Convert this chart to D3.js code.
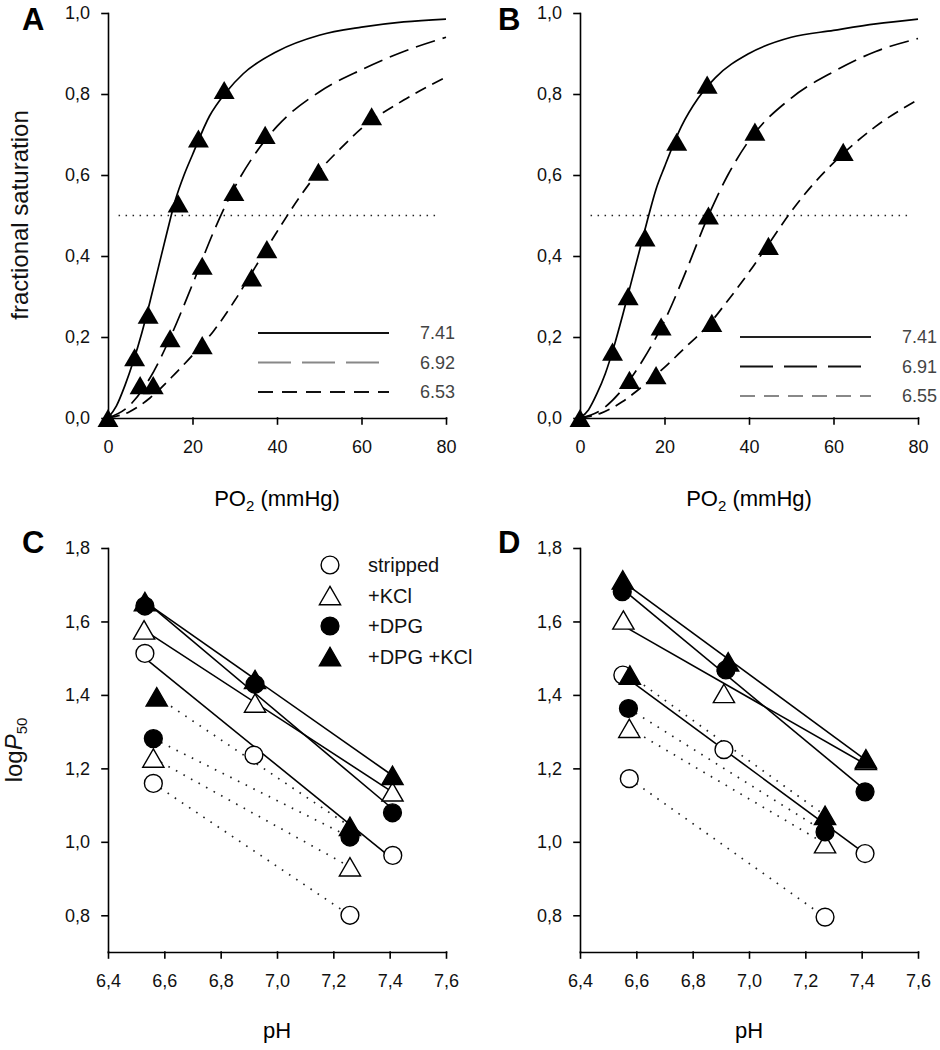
<!DOCTYPE html>
<html>
<head>
<meta charset="utf-8">
<script src="https://cdn.jsdelivr.net/npm/d3@7"></script>
<style>
body { margin: 0; background: #fff; }
svg text { font-family: "Liberation Sans", Arial, sans-serif; }
</style>
</head>
<body>
<svg id="fig" width="940" height="1050"></svg>
<script>
// ---- panel A: saturation curves, pH 7.41 / 6.92 / 6.53 ----
var aLabels = ["7.41", "6.92", "6.53"];
var aPO2_741 = [0, 6.3, 9.5, 16.6, 21.4, 27.5];
var aSat_741 = [0, 0.15, 0.255, 0.53, 0.69, 0.81];
var aPO2_692 = [7.6, 14.7, 22.3, 29.8, 37.2];
var aSat_692 = [0.081, 0.197, 0.376, 0.558, 0.699];
var aPO2_653 = [10.7, 22.3, 34.0, 37.6, 49.8, 62.4];
var aSat_653 = [0.081, 0.18, 0.347, 0.417, 0.608, 0.745];
// fitted curves
var aFitX_741 = [0, 2, 4, 6, 8, 10, 12, 14, 16, 18, 20, 24, 28, 32, 40, 50, 60, 70, 80];
var aFitY_741 = [0, 0.03, 0.08, 0.14, 0.21, 0.29, 0.375, 0.46, 0.54, 0.60, 0.65, 0.745, 0.805, 0.85, 0.905, 0.945, 0.965, 0.978, 0.985];
var aFitX_692 = [0, 5, 10, 15, 20, 25, 30, 35, 40, 50, 60, 70, 80];
var aFitY_692 = [0, 0.03, 0.10, 0.205, 0.33, 0.46, 0.57, 0.655, 0.72, 0.805, 0.86, 0.905, 0.94];
var aFitX_653 = [0, 5, 10, 15, 20, 25, 30, 35, 40, 45, 50, 55, 60, 70, 80];
var aFitY_653 = [0, 0.015, 0.05, 0.10, 0.155, 0.215, 0.29, 0.375, 0.46, 0.54, 0.61, 0.665, 0.715, 0.785, 0.842];

// ---- panel B: pH 7.41 / 6.91 / 6.55 ----
var bLabels = ["7.41", "6.91", "6.55"];
var bPO2_741 = [0, 7.7, 11.4, 15.4, 22.9, 30.1];
var bSat_741 = [0, 0.164, 0.301, 0.446, 0.682, 0.823];
var bPO2_691 = [11.7, 19.2, 30.4, 41.4];
var bSat_691 = [0.094, 0.226, 0.5, 0.707];
var bPO2_655 = [18.0, 31.2, 44.6, 62.3];
var bSat_655 = [0.106, 0.235, 0.425, 0.657];
var bFitX_741 = [0, 2, 4, 6, 8, 10, 12, 14, 16, 18, 20, 24, 28, 32, 40, 50, 60, 70, 80];
var bFitY_741 = [0, 0.02, 0.06, 0.11, 0.175, 0.25, 0.33, 0.41, 0.49, 0.565, 0.62, 0.72, 0.79, 0.84, 0.9, 0.94, 0.957, 0.973, 0.985];
var bFitX_691 = [0, 5, 10, 15, 20, 25, 30, 35, 40, 50, 60, 70, 80];
var bFitY_691 = [0, 0.02, 0.07, 0.145, 0.24, 0.36, 0.49, 0.6, 0.685, 0.79, 0.855, 0.905, 0.937];
var bFitX_655 = [0, 5, 10, 15, 20, 25, 30, 35, 40, 45, 50, 55, 60, 70, 80];
var bFitY_655 = [0, 0.012, 0.04, 0.08, 0.125, 0.175, 0.225, 0.29, 0.36, 0.435, 0.51, 0.575, 0.63, 0.72, 0.786];

var halfSat = 0.5;
var halfSatSpan = [2.5, 77.5];
var satXTicks = [0, 20, 40, 60, 80];
var satYTicks = [0, 0.2, 0.4, 0.6, 0.8, 1.0];

// ---- panels C / D: logP50 vs pH ----
var groups = ["stripped", "+KCl", "+DPG", "+DPG +KCl"];
var cSolidPH = [[6.531, 6.918, 7.411], [6.528, 6.922, 7.41], [6.531, 6.922, 7.41], [6.531, 6.922, 7.41]];
var cSolidLogP = [[1.513, 1.236, 0.963], [1.577, 1.378, 1.136], [1.642, 1.429, 1.079], [1.654, 1.442, 1.181]];
var cDotPH = [[6.561, 7.259], [6.561, 7.259], [6.561, 7.259], [6.573, 7.259]];
var cDotLogP = [[1.159, 0.800], [1.228, 0.932], [1.281, 1.013], [1.395, 1.042]];

var dSolidPH = [[6.552, 6.911, 7.412], [6.554, 6.911, 7.415], [6.55, 6.918, 7.412], [6.552, 6.926, 7.415]];
var dSolidLogP = [[1.454, 1.251, 0.968], [1.604, 1.404, 1.222], [1.681, 1.468, 1.136], [1.713, 1.49, 1.226]];
var dDotPH = [[6.575, 7.27], [6.575, 7.27], [6.572, 7.27], [6.577, 7.27]];
var dDotLogP = [[1.172, 0.795], [1.309, 0.995], [1.363, 1.027], [1.454, 1.072]];

var phTicks = [6.4, 6.6, 6.8, 7.0, 7.2, 7.4, 7.6];
var logTicks = [0.8, 1.0, 1.2, 1.4, 1.6, 1.8];

var svg = d3.select("#fig");
var commaFmt = function(d) { return d3.format(".1f")(d).replace(".", ","); };
var zip = function(xs, ys) { return xs.map(function(v, i) { return [v, ys[i]]; }); };

function axes(x, y, xTicks, yTicks, xFmt) {
    var gx = svg.append("g")
        .attr("transform", "translate(0," + y.range()[0] + ")")
        .call(d3.axisBottom(x).tickValues(xTicks).tickSize(6).tickSizeOuter(0).tickPadding(16).tickFormat(xFmt));
    var gy = svg.append("g")
        .attr("transform", "translate(" + x.range()[0] + ",0)")
        .call(d3.axisLeft(y).tickValues(yTicks).tickSize(6).tickSizeOuter(0).tickPadding(12).tickFormat(commaFmt));
    [gx, gy].forEach(function(g) {
        g.selectAll("path, line").attr("stroke", "#000").attr("stroke-width", 1.6).attr("stroke-linecap", "square");
        g.selectAll("text").attr("font-size", 18).attr("fill", "#111")
            .style("font-family", '"Liberation Sans", Arial, sans-serif');
    });
}

function panelLetter(txt, x, y) {
    svg.append("text").attr("x", x).attr("y", y).attr("font-size", 31).attr("font-weight", "bold").text(txt);
}

// triangle symbols are centred on the centroid; nudge so the box centre sits on the point
function triShift(size) { return Math.sqrt(size / (3 * Math.sqrt(3))) / 2; }

var dashes = [null, "20,8", "12,7"];
var legendDashes = [null, "33,11", "15,9"];

function satPanel(left, fitsX, fitsY, ptsX, ptsY, labels, legX, legY, legColors) {
    var x = d3.scaleLinear().domain([0, 80]).range([left, left + 338]);
    var y = d3.scaleLinear().domain([0, 1]).range([418, 13]);
    var line = d3.line().x(function(d) { return x(d[0]); }).y(function(d) { return y(d[1]); }).curve(d3.curveMonotoneX);

    svg.append("line")
        .attr("x1", x(halfSatSpan[0])).attr("x2", x(halfSatSpan[1]))
        .attr("y1", y(halfSat)).attr("y2", y(halfSat))
        .attr("stroke", "#222").attr("stroke-width", 1.6).attr("stroke-dasharray", "1.5,5.5");

    for (var i = 0; i < 3; i++) {
        svg.append("path").datum(zip(fitsX[i], fitsY[i]))
            .attr("d", line).attr("fill", "none").attr("stroke", "#000").attr("stroke-width", 1.7)
            .attr("stroke-dasharray", dashes[i]);
    }
    axes(x, y, satXTicks, satYTicks, d3.format("d"));

    var tri = d3.symbol().type(d3.symbolTriangle).size(190);
    var sh = triShift(190);
    for (var i = 0; i < 3; i++) {
        svg.append("g").selectAll("path").data(zip(ptsX[i], ptsY[i])).enter().append("path")
            .attr("d", tri)
            .attr("transform", function(d) { return "translate(" + x(d[0]) + "," + (y(d[1]) + sh) + ")"; })
            .attr("fill", "#000");
    }

    // legend
    for (var i = 0; i < 3; i++) {
        var ly = legY + i * 29.5;
        svg.append("line").attr("x1", legX).attr("x2", legX + 131).attr("y1", ly).attr("y2", ly)
            .attr("stroke", legColors[i]).attr("stroke-width", 1.8).attr("stroke-dasharray", legendDashes[i]);
        svg.append("text").attr("x", legX + 162).attr("y", ly + 6).attr("font-size", 18).attr("fill", "#444").text(labels[i]);
    }

    svg.append("text").attr("x", left + 169).attr("y", 506).attr("font-size", 22).attr("text-anchor", "middle")
        .call(function(t) {
            t.append("tspan").text("PO");
            t.append("tspan").attr("font-size", 15).attr("dy", 5).text("2");
            t.append("tspan").attr("dy", -5).text(" (mmHg)");
        });
}

satPanel(108, [aFitX_741, aFitX_692, aFitX_653], [aFitY_741, aFitY_692, aFitY_653],
    [aPO2_741, aPO2_692, aPO2_653], [aSat_741, aSat_692, aSat_653], aLabels, 258, 333, ["#111", "#888", "#111"]);
satPanel(580, [bFitX_741, bFitX_691, bFitX_655], [bFitY_741, bFitY_691, bFitY_655],
    [bPO2_741, bPO2_691, bPO2_655], [bSat_741, bSat_691, bSat_655], bLabels, 740, 337, ["#222", "#111", "#888"]);

svg.append("text").attr("transform", "translate(28,215) rotate(-90)").attr("text-anchor", "middle")
    .attr("font-size", 24).attr("fill", "#111").text("fractional saturation");

panelLetter("A", 22, 30);
panelLetter("B", 498, 30);

// ---- pH panels ----
var markerType = [d3.symbolCircle, d3.symbolTriangle, d3.symbolCircle, d3.symbolTriangle];
var markerFill = ["#fff", "#fff", "#000", "#000"];
var markerSize = [250, 195, 250, 195];

function fitLine(xs, ys) {
    var mx = d3.mean(xs), my = d3.mean(ys);
    var sxy = d3.sum(xs, function(v, i) { return (v - mx) * (ys[i] - my); });
    var sxx = d3.sum(xs, function(v) { return (v - mx) * (v - mx); });
    var b = sxy / sxx;
    var x0 = xs[0], x1 = xs[xs.length - 1];
    return [[x0, my + b * (x0 - mx)], [x1, my + b * (x1 - mx)]];
}

function marker(g, k, px, py) {
    var sh = markerType[k] === d3.symbolTriangle ? triShift(markerSize[k]) : 0;
    g.append("path").attr("d", d3.symbol().type(markerType[k]).size(markerSize[k]))
        .attr("transform", "translate(" + px + "," + (py + sh) + ")")
        .attr("fill", markerFill[k]).attr("stroke", "#000").attr("stroke-width", 1.4);
}

function phPanel(left, solidX, solidY, dotX, dotY) {
    var x = d3.scaleLinear().domain([6.4, 7.6]).range([left, left + 338]);
    var y = d3.scaleLinear().domain([0.7, 1.8]).range([952, 548]);
    var line = d3.line().x(function(d) { return x(d[0]); }).y(function(d) { return y(d[1]); });

    for (var k = 0; k < 4; k++) {
        svg.append("path").datum(zip(dotX[k], dotY[k])).attr("d", line)
            .attr("fill", "none").attr("stroke", "#222").attr("stroke-width", 1.7).attr("stroke-dasharray", "1.6,7");
    }
    for (var k = 0; k < 4; k++) {
        svg.append("path").datum(fitLine(solidX[k], solidY[k])).attr("d", line)
            .attr("fill", "none").attr("stroke", "#000").attr("stroke-width", 1.6);
    }
    axes(x, y, phTicks, logTicks, commaFmt);

    var g = svg.append("g");
    for (var k = 0; k < 4; k++) {
        zip(solidX[k], solidY[k]).concat(zip(dotX[k], dotY[k])).forEach(function(d) {
            marker(g, k, x(d[0]), y(d[1]));
        });
    }

    svg.append("text").attr("x", left + 169).attr("y", 1038).attr("font-size", 22)
        .attr("text-anchor", "middle").text("pH");
}

phPanel(108, cSolidPH, cSolidLogP, cDotPH, cDotLogP);
phPanel(580, dSolidPH, dSolidLogP, dDotPH, dDotLogP);

// legend in C
var lg = svg.append("g");
groups.forEach(function(name, k) {
    var ly = 565 + k * 30.5;
    marker(lg, k, 330, ly);
    lg.append("text").attr("x", 368).attr("y", ly + 7).attr("font-size", 20).attr("fill", "#111").text(name);
});

svg.append("text").attr("transform", "translate(22,750) rotate(-90)").attr("text-anchor", "middle")
    .attr("font-size", 24).attr("fill", "#111")
    .call(function(t) {
        t.append("tspan").text("log");
        t.append("tspan").attr("font-style", "italic").text("P");
        t.append("tspan").attr("font-size", 15).attr("dy", 5).text("50");
    });

panelLetter("C", 22, 553);
panelLetter("D", 498, 553);
</script>
</body>
</html>
